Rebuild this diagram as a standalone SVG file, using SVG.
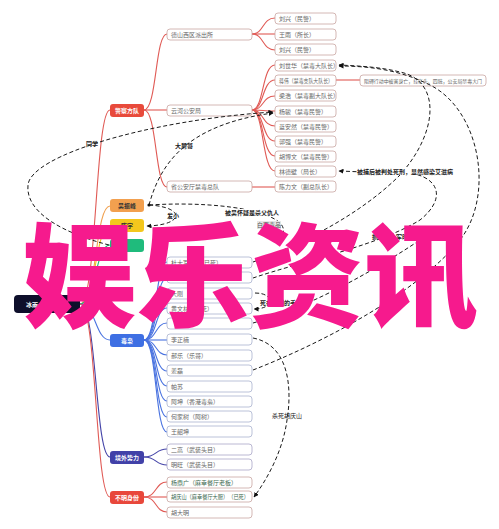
<svg xmlns="http://www.w3.org/2000/svg" width="499" height="529" viewBox="0 0 499 529">
<defs>
<marker id="arr" viewBox="0 0 10 10" refX="9" refY="5" markerWidth="5" markerHeight="5" orient="auto"><path d="M0,0 L10,5 L0,10 z" fill="#111"/></marker>
<marker id="dot" viewBox="0 0 10 10" refX="5" refY="5" markerWidth="4" markerHeight="4"><circle cx="5" cy="5" r="4" fill="#111"/></marker>
</defs>
<style>
.n rect{fill:#fff;stroke:#c9a6a2;stroke-width:0.8}
.n text{font-family:"Noto Sans CJK SC","Liberation Sans",sans-serif;font-size:6px;fill:#666}
.b rect{fill:#fff;stroke:#aab3cf;stroke-width:0.8}
.p rect{fill:#fff;stroke:#a9a6c8;stroke-width:0.8}
.g text{fill:#3e6b52}
.l1 text{font-family:"Noto Sans CJK SC","Liberation Sans",sans-serif;font-size:6px;font-weight:bold;fill:#fff}
.dk text{fill:#333}
.ln path{fill:none;stroke-width:1.1}
.red{stroke:#e05a55}
.blue{stroke:#4a73e0}
.ind{stroke:#4444a8}
.rel path{fill:none;stroke:#1a1a1a;stroke-width:1;stroke-dasharray:4 2.5}
.lb{font-family:"Noto Sans CJK SC","Liberation Sans",sans-serif;font-size:6px;fill:#222;font-weight:bold}
</style>
<rect width="499" height="529" fill="#fff"/>
<g id="connectors" class="ln">
<path class="red" d="M80,304 C97,304 95,110 110,110"/>
<path d="M80,304 C97,304 95,206 110,206" stroke="#f0a04f"/>
<path d="M80,304 C96,304 95,226 110,226" stroke="#f0c51e"/>
<path d="M80,304 C96,304 95,245 110,245" stroke="#20b87a"/>
<path class="blue" d="M80,304 C96,304 95,340 110,340"/>
<path class="ind" d="M80,304 C97,304 95,457 110,457"/>
<path class="red" d="M80,304 C97,304 95,497 110,497"/>
<path class="red" d="M144,110 C157,110 155,34 167,34"/>
<path class="red" d="M144,110 L167,110"/>
<path class="red" d="M144,110 C157,110 155,187 167,187"/>
<path class="red" d="M252,34 C264,34 262,18 275,18"/>
<path class="red" d="M252,34 L275,34"/>
<path class="red" d="M252,34 C264,34 262,50 275,50"/>
<path class="red" d="M252,110 C264,110 262,65 275,65"/>
<path class="red" d="M252,110 C264,110 262,80 275,80"/>
<path class="red" d="M252,110 C264,110 262,96 275,96"/>
<path class="red" d="M252,110 C264,110 262,111 275,111"/>
<path class="red" d="M252,110 C264,110 262,126 275,126"/>
<path class="red" d="M252,110 C264,110 262,141 275,141"/>
<path class="red" d="M252,110 C264,110 262,156 275,156"/>
<path class="red" d="M252,110 C264,110 262,171 275,171"/>
<path class="red" d="M252,187 L275,187"/>
<path class="red" d="M336,80 L360,80"/>
<path class="blue" d="M144,340 C157,340 155,262 167,262"/>
<path class="blue" d="M144,340 C157,340 155,278 167,278"/>
<path class="blue" d="M144,340 C157,340 155,293 167,293"/>
<path class="blue" d="M144,340 C157,340 155,308 167,308"/>
<path class="blue" d="M144,340 C157,340 155,323 167,323"/>
<path class="blue" d="M144,340 L167,340"/>
<path class="blue" d="M144,340 C157,340 155,355 167,355"/>
<path class="blue" d="M144,340 C157,340 155,371 167,371"/>
<path class="blue" d="M144,340 C157,340 155,386 167,386"/>
<path class="blue" d="M144,340 C157,340 155,401 167,401"/>
<path class="blue" d="M144,340 C157,340 155,417 167,417"/>
<path class="blue" d="M144,340 C157,340 155,432 167,432"/>
<path class="ind" d="M144,457 C157,457 155,449 167,449"/>
<path class="ind" d="M144,457 C157,457 155,465 167,465"/>
<path class="red" d="M144,497 C157,497 155,482 167,482"/>
<path class="red" d="M144,497 L167,497"/>
<path class="red" d="M144,497 C157,497 155,512 167,512"/>
</g>
<g id="root" class="l1"><rect x="14" y="295" width="66" height="18" rx="4" fill="#0e0f2b"/><text x="26" y="306.5">冰雨火</text></g>
<g id="n-police" class="l1"><rect x="110" y="104" width="34" height="13" rx="3" fill="#e84a3b"/><text x="127" y="112.5" text-anchor="middle">警察方队</text></g>
<g id="n-wu" class="l1 dk"><rect x="110" y="199" width="34" height="13" rx="3" fill="#f2a04f"/><text x="127" y="207.5" text-anchor="middle">吴振峰</text></g>
<g id="n-chen" class="l1 dk"><rect x="110" y="219" width="34" height="13" rx="3" fill="#f3c71d"/><text x="127" y="227.5" text-anchor="middle">陈宇</text></g>
<g id="n-green" class="l1"><rect x="110" y="239" width="34" height="13" rx="3" fill="#1fbb7c"/></g>
<g id="n-drug" class="l1"><rect x="110" y="334" width="34" height="13" rx="3" fill="#3e6fe3"/><text x="127" y="342.5" text-anchor="middle">毒枭</text></g>
<g id="n-foreign" class="l1"><rect x="110" y="451" width="34" height="13" rx="3" fill="#4141a8"/><text x="127" y="459.5" text-anchor="middle">境外势力</text></g>
<g id="n-unknown" class="l1"><rect x="110" y="491" width="34" height="13" rx="3" fill="#e8473b"/><text x="127" y="499.5" text-anchor="middle">不明身份</text></g>
<g id="n-ds" class="n"><rect x="167" y="29" width="85" height="11" rx="3"/><text x="171" y="36.5">德山西区派出所</text></g>
<g id="n-yh" class="n"><rect x="167" y="105" width="85" height="11" rx="3"/><text x="171" y="112.5">云河公安局</text></g>
<g id="n-st" class="n"><rect x="167" y="181" width="85" height="11" rx="3"/><text x="171" y="188.5">省公安厅禁毒总队</text></g>
<g id="n-lx1" class="n"><rect x="275" y="13" width="61" height="11" rx="3"/><text x="279" y="20.5">刘兴（民警）</text></g>
<g id="n-wy" class="n"><rect x="275" y="29" width="61" height="11" rx="3"/><text x="279" y="36.5">王雨（所长）</text></g>
<g id="n-lx2" class="n"><rect x="275" y="44" width="61" height="11" rx="3"/><text x="279" y="51.5">刘兴（民警）</text></g>
<g id="n-lsh" class="n"><rect x="275" y="60" width="61" height="11" rx="3"/><text x="279" y="67.5">刘世华（禁毒大队长）</text></g>
<g id="n-jw" class="n"><rect x="275" y="75" width="61" height="11" rx="3"/><text x="279" y="82.5" textLength="54" lengthAdjust="spacingAndGlyphs">蒋伟（禁毒支队大队长）</text></g>
<g id="n-lh" class="n"><rect x="275" y="90" width="61" height="11" rx="3"/><text x="279" y="97.5">梁浩（禁毒副大队长）</text></g>
<g id="n-yj" class="n"><rect x="275" y="106" width="61" height="11" rx="3"/><text x="279" y="113.5">杨骏（禁毒民警）</text></g>
<g id="n-la" class="n"><rect x="275" y="121" width="61" height="11" rx="3"/><text x="279" y="128.5">蓝安然（禁毒民警）</text></g>
<g id="n-gq" class="n"><rect x="275" y="136" width="61" height="11" rx="3"/><text x="279" y="143.5">郭强（禁毒民警）</text></g>
<g id="n-hbw" class="n"><rect x="275" y="151" width="61" height="11" rx="3"/><text x="279" y="158.5">胡博文（禁毒民警）</text></g>
<g id="n-ldb" class="n"><rect x="275" y="166" width="61" height="11" rx="3"/><text x="279" y="173.5">林德壁（局长）</text></g>
<g id="n-clw" class="n"><rect x="275" y="181" width="61" height="11" rx="3"/><text x="279" y="188.5">陈力文（副总队长）</text></g>
<g id="n-jw2" class="n"><rect x="360" y="75" width="126" height="11" rx="3"/><text x="364" y="82.5" textLength="118" lengthAdjust="spacingAndGlyphs" style="font-size:5px">阻碍行动中被害身亡，挂在头、四肢，公安局禁毒大门</text></g>
<g id="n-ddj" class="n b"><rect x="167" y="257" width="85" height="11" rx="3"/><text x="171" y="264.5">杜大军　　（已死）</text></g>
<g id="n-b2" class="n b"><rect x="167" y="272" width="85" height="11" rx="3"/></g>
<g id="n-dg" class="n b"><rect x="167" y="288" width="85" height="11" rx="3"/><text x="171" y="295.5">大刚</text></g>
<g id="n-hwl" class="n b"><rect x="167" y="303" width="85" height="11" rx="3"/><text x="171" y="310.5">黄文林（已死）</text></g>
<g id="n-b5" class="n b"><rect x="167" y="318" width="85" height="11" rx="3"/></g>
<g id="n-lzn" class="n b"><rect x="167" y="334" width="85" height="11" rx="3"/><text x="171" y="341.5">李正楠</text></g>
<g id="n-hl" class="n b"><rect x="167" y="350" width="85" height="11" rx="3"/><text x="171" y="357.5">郝乐（乐哥）</text></g>
<g id="n-jl" class="n b"><rect x="167" y="365" width="85" height="11" rx="3"/><text x="171" y="372.5">姜磊</text></g>
<g id="n-ps" class="n b"><rect x="167" y="381" width="85" height="11" rx="3"/><text x="171" y="388.5">帕苏</text></g>
<g id="n-ak" class="n b"><rect x="167" y="396" width="85" height="11" rx="3"/><text x="171" y="403.5">阿坤（香港毒枭）</text></g>
<g id="n-hjs" class="n b"><rect x="167" y="411" width="85" height="11" rx="3"/><text x="171" y="418.5">何家树（阿树）</text></g>
<g id="n-wsk" class="n b"><rect x="167" y="426" width="85" height="11" rx="3"/><text x="171" y="433.5">王韶坤</text></g>
<g id="n-eg" class="n p"><rect x="167" y="444" width="85" height="11" rx="3"/><text x="171" y="451.5">二高（武装头目）</text></g>
<g id="n-mw" class="n p"><rect x="167" y="459" width="85" height="11" rx="3"/><text x="171" y="466.5">明旺（武装头目）</text></g>
<g id="n-ydg" class="n g"><rect x="167" y="477" width="85" height="11" rx="3"/><text x="171" y="484.5">杨鼎广（麻幸餐厅老板）</text></g>
<g id="n-hqs" class="n g"><rect x="167" y="491" width="85" height="11" rx="3"/><text x="171" y="498.5" textLength="78" lengthAdjust="spacingAndGlyphs">胡庆山（麻幸餐厅大厨）　（已死）</text></g>
<g id="n-hdm" class="n"><rect x="167" y="507" width="85" height="11" rx="3"/><text x="171" y="514.5">胡大明</text></g>
<g id="relations" class="rel">
<path d="M109,245 C70,235 25,215 28,185 C31,155 150,120 273,112" marker-end="url(#arr)"/>
<path d="M149,205 C160,165 185,125 273,113" marker-end="url(#arr)"/>
<path d="M149,205 C185,207 185,225 147,226" marker-start="url(#dot)" marker-end="url(#arr)"/>
<path d="M149,205 C230,200 300,215 280,238"/>
<path d="M253,262 C300,245 360,215 400,175 C440,130 440,80 400,72 C380,67 360,66 339,65" marker-end="url(#arr)"/>
<path d="M253,370 C330,340 420,290 460,240 C495,195 480,110 430,85 C400,70 370,66 339,66" marker-end="url(#arr)"/>
<path d="M253,278 C300,262 380,245 420,220 C445,200 440,180 415,174 L339,171" marker-end="url(#arr)"/>
<path d="M255,293 C275,293 275,309 254,309" marker-end="url(#arr)"/>
<path d="M253,338 C290,345 292,390 287,420 C283,450 268,478 254,497" marker-end="url(#arr)"/>
<path d="M253,323 C300,310 360,280 420,240"/>
</g>
<g id="labels">
<text class="lb" x="92" y="146" text-anchor="middle">同学</text>
<text class="lb" x="184" y="148" text-anchor="middle">大舅哥</text>
<text class="lb" x="173" y="218" text-anchor="middle">发小</text>
<rect x="218" y="209" width="68" height="8" fill="#fff"/>
<text class="lb" x="252" y="215" text-anchor="middle">被吴怀疑是杀父仇人</text>
<rect x="257" y="221" width="24" height="8" fill="#e6e6e6"/>
<text class="lb" x="269" y="227" text-anchor="middle" style="font-weight:normal;fill:#555">白面毒品</text>
<rect x="358" y="167" width="95" height="8" fill="#fff"/>
<text class="lb" x="405" y="173.5" text-anchor="middle">被捕后被判处死刑，显然感染艾滋病</text>
<text class="lb" x="390" y="239" text-anchor="middle">抓捕杜大军时</text>
<text class="lb" x="278" y="305" text-anchor="middle">死在大刚的手</text>
<text class="lb" x="287" y="418" text-anchor="middle" style="font-weight:normal">杀死胡庆山</text>
</g>
<text x="22" y="318" font-family="Noto Sans CJK SC, sans-serif" font-size="114" font-weight="900" fill="#f61a8d">娱乐资讯</text>
</svg>
